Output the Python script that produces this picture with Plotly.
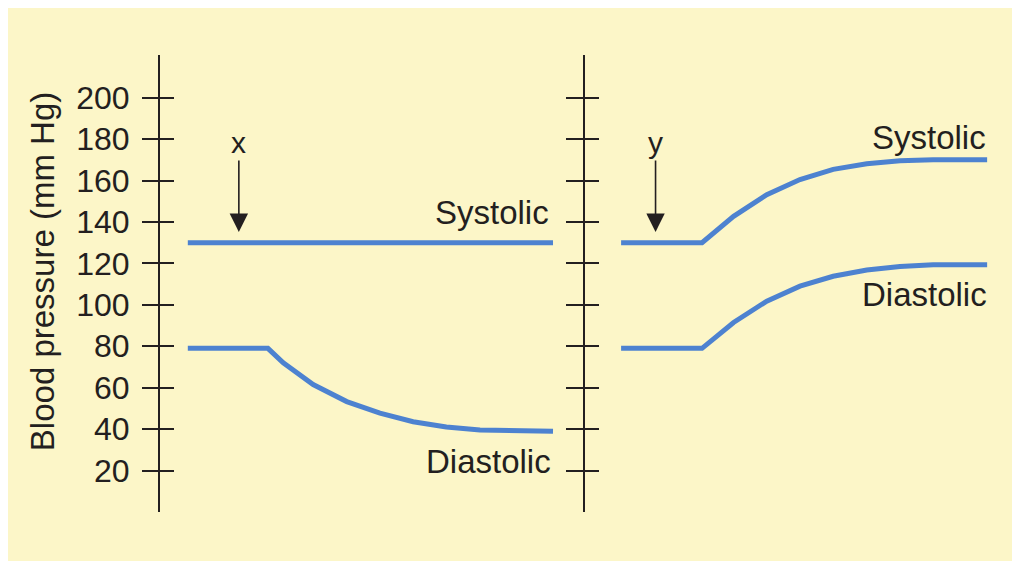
import plotly.graph_objects as go

# ---- data (time in arbitrary units, pressure in mm Hg) ----
left_time_sys = [6.7, 94.7]
left_systolic = [130, 130]
left_time_dia = [6.7, 26, 29.7, 36.9, 45, 53, 61, 69, 77.1, 85.1, 94.7]
left_diastolic = [79, 79, 72, 61.5, 53.3, 47.7, 43.6, 41, 39.6, 39.1, 39]

right_time = [8.7, 28.2, 35.8, 43.8, 51.8, 59.8, 67.9, 75.9, 83.9, 96.9]
right_systolic = [130, 130, 142.7, 153.2, 160.5, 165.4, 168.1, 169.6, 170, 170]
right_diastolic = [79, 79, 91.5, 101.8, 109, 113.8, 116.8, 118.5, 119.3, 119.3]

tick_values = [20, 40, 60, 80, 100, 120, 140, 160, 180, 200]
tick_labels = [str(v) for v in tick_values]

event_labels = ["x", "y"]
event_times = [19.0, 17.0]

# ---- styles ----
BLUE = "#4d82d0"
INK = "#231f20"
YELLOW = "#fcf6c8"
FONT = "Liberation Sans, Arial, Helvetica, sans-serif"
Y_RANGE = [0, 220.6]

fig = go.Figure()
line_style = dict(color=BLUE, width=5)
# systolic on the main axes, diastolic on the overlaid (inside-tick) axes
fig.add_trace(go.Scatter(x=left_time_sys, y=left_systolic, mode="lines", line=line_style,
                         xaxis="x", yaxis="y", hoverinfo="skip"))
fig.add_trace(go.Scatter(x=left_time_dia, y=left_diastolic, mode="lines", line=line_style,
                         xaxis="x", yaxis="y2", hoverinfo="skip"))
fig.add_trace(go.Scatter(x=right_time, y=right_systolic, mode="lines", line=line_style,
                         xaxis="x2", yaxis="y3", hoverinfo="skip"))
fig.add_trace(go.Scatter(x=right_time, y=right_diastolic, mode="lines", line=line_style,
                         xaxis="x2", yaxis="y4", hoverinfo="skip"))

def yax(anchor, ticks, ticklen, labels, overlaying=None):
    d = dict(
        anchor=anchor, range=Y_RANGE, domain=[0, 1], side="left",
        showline=True, linecolor=INK, linewidth=2,
        showgrid=False, zeroline=False,
        tickmode="array", tickvals=tick_values, ticktext=tick_labels,
        ticks=ticks, ticklen=ticklen, tickwidth=2, tickcolor=INK,
        showticklabels=labels, ticklabelstandoff=6,
        tickfont=dict(family=FONT, size=32, color=INK),
        fixedrange=True,
    )
    if overlaying:
        d["overlaying"] = overlaying
    return d

fig.update_layout(
    width=1012, height=556,
    margin=dict(l=152, r=20, t=47, b=52),
    paper_bgcolor="white",
    plot_bgcolor="rgba(0,0,0,0)",
    showlegend=False,
    xaxis=dict(domain=[0, 415 / 840], range=[0, 100], visible=False, fixedrange=True),
    xaxis2=dict(domain=[425 / 840, 1], range=[0, 100], visible=False, fixedrange=True),
    yaxis=yax("x", "outside", 16, True),
    yaxis2=yax("x", "inside", 14, False, overlaying="y"),
    yaxis3=yax("x2", "outside", 17, False),
    yaxis4=yax("x2", "inside", 14, False, overlaying="y3"),
    shapes=[dict(type="rect", xref="paper", yref="paper",
                 x0=-0.19, x1=1.018, y0=-0.107, y1=1.12,
                 fillcolor=YELLOW, line=dict(width=0), layer="below")],
)

label_font = dict(family=FONT, size=33, color=INK)
anns = [
    dict(text="Blood pressure (mm Hg)", xref="paper", yref="paper", x=-0.1405, y=0.527,
         textangle=-90, showarrow=False, font=label_font, xanchor="center", yanchor="middle"),
    dict(text="Systolic", xref="x", yref="y", x=94.3, y=144.4, xanchor="right",
         yanchor="middle", showarrow=False, font=label_font),
    dict(text="Diastolic", xref="x", yref="y", x=94.6, y=24.2, xanchor="right",
         yanchor="middle", showarrow=False, font=label_font),
    dict(text="Systolic", xref="x2", yref="y3", x=97.0, y=181, xanchor="right",
         yanchor="middle", showarrow=False, font=label_font),
    dict(text="Diastolic", xref="x2", yref="y3", x=97.3, y=104.8, xanchor="right",
         yanchor="middle", showarrow=False, font=label_font),
]
for lbl, t, xr, yr in zip(event_labels, event_times, ["x", "x2"], ["y", "y3"]):
    anns.append(dict(text=lbl, xref=xr, yref=yr, x=t, y=178.5, showarrow=False,
                     font=dict(family=FONT, size=30, color=INK),
                     xanchor="center", yanchor="middle"))
    anns.append(dict(text="", xref=xr, yref=yr, x=t, y=135.2, axref=xr, ayref=yr,
                     ax=t, ay=170.4, showarrow=True, arrowhead=2, arrowsize=2.3,
                     arrowwidth=1.6, arrowcolor=INK))
fig.update_layout(annotations=anns)

fig.write_html("out.html")
